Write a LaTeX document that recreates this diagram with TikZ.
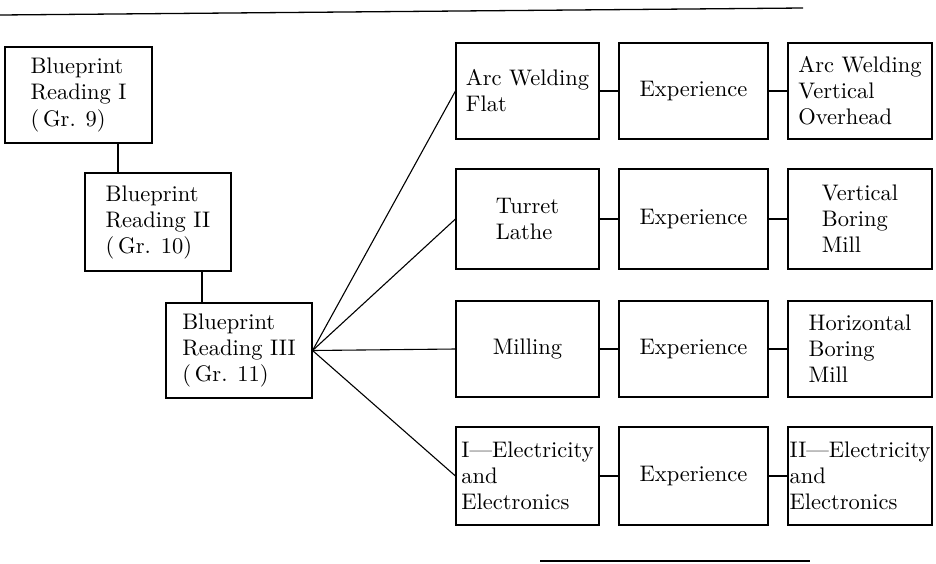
\documentclass[tikz,border=0pt]{standalone}
\usepackage{fontspec}
\setmainfont{lmroman10-regular.otf}
\begin{document}
\begin{tikzpicture}[x=1pt,y=-1pt,
  box/.style={draw,line width=1.1pt,inner sep=0pt,align=left,
    font=\fontsize{22.5}{26}\selectfont},
  link/.style={line width=1.1pt},
  rule/.style={line width=1.3pt}]
\useasboundingbox (0,0) rectangle (936,563);

% blueprint reading sequence
\node[box,minimum width=147pt,minimum height=96pt] (bp1) at (78.5,95)
  {Blueprint\\Reading I\\(\,Gr. 9)};
\node[box,minimum width=146pt,minimum height=98pt] (bp2) at (158,222)
  {Blueprint\\Reading II\\(\,Gr. 10)};
\node[box,minimum width=146pt,minimum height=95pt] (bp3) at (239,350.5)
  {Blueprint\\Reading III\\(\,Gr. 11)};

% shop courses, experience, advanced courses
\tikzset{
  cola/.style={box,minimum width=143pt},
  colb/.style={box,minimum width=149pt},
  colc/.style={box,minimum width=144pt}}
\node[cola,minimum height=96pt] (a1) at (527.5,91) {Arc Welding\\Flat};
\node[colb,minimum height=96pt] (b1) at (693.5,91) {Experience};
\node[colc,minimum height=96pt] (c1) at (860,91) {Arc Welding\\Vertical\\Overhead};

\node[cola,minimum height=100pt] (a2) at (527.5,219) {Turret\\Lathe};
\node[colb,minimum height=100pt] (b2) at (693.5,219) {Experience};
\node[colc,minimum height=100pt] (c2) at (860,219) {Vertical\\Boring\\Mill};

\node[cola,minimum height=96pt] (a3) at (527.5,349) {Milling};
\node[colb,minimum height=96pt] (b3) at (693.5,349) {Experience};
\node[colc,minimum height=96pt] (c3) at (860,349) {Horizontal\\Boring\\Mill};

\node[cola,minimum height=98pt] (a4) at (527.5,476) {I---Electricity\\and\\Electronics};
\node[colb,minimum height=98pt] (b4) at (693.5,476) {Experience};
\node[colc,minimum height=98pt] (c4) at (860,476) {II---Electricity\\and\\Electronics};

% vertical links in the blueprint sequence
\coordinate (j1) at (118,0);
\coordinate (j2) at (202,0);
\draw[link] (j1 |- bp1.south) -- (j1 |- bp2.north);
\draw[link] (j2 |- bp2.south) -- (j2 |- bp3.north);

% fan from Blueprint Reading III
\foreach \n in {a1,a2,a3,a4}
  \draw[link] (bp3.east) -- (\n.west);

% row links
\foreach \r in {1,2,3,4} {
  \draw[link] (a\r.east) -- (b\r.west);
  \draw[link] (b\r.east) -- (c\r.west);
}

% page rules
\coordinate (t0) at (0,15);
\coordinate (t1) at (803,8);
\coordinate (u0) at (540,561);
\coordinate (u1) at (810,561);
\draw[rule] (t0) -- (t1);
\draw[rule] (u0) -- (u1);
\end{tikzpicture}
\end{document}
